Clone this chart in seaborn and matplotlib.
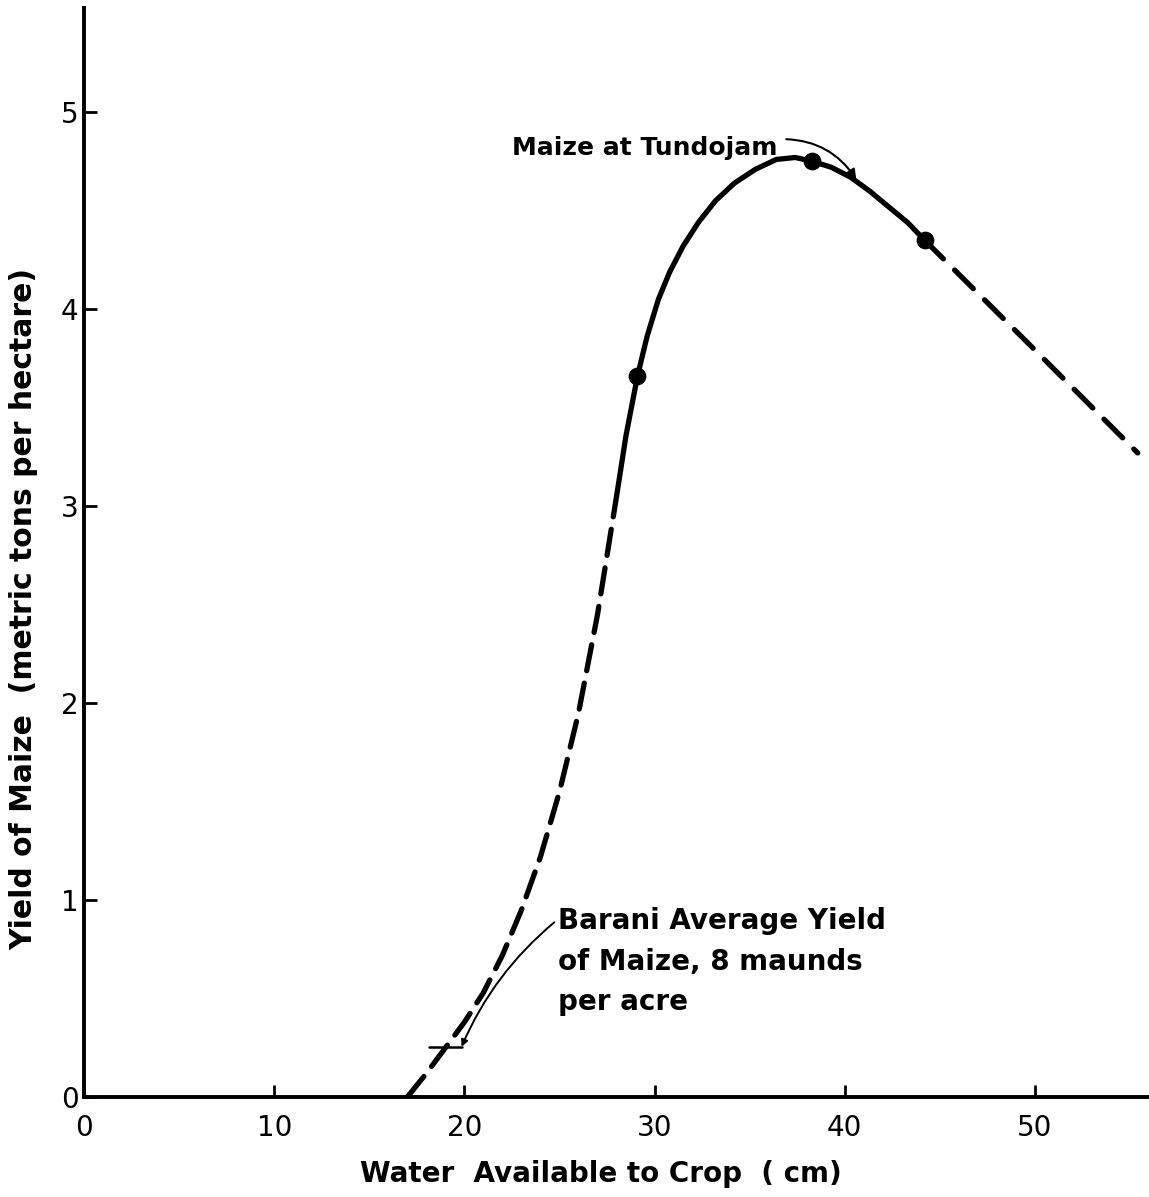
import matplotlib
matplotlib.use("Agg")
import matplotlib.pyplot as plt
import seaborn as sns

# ---- data ----
# lower dashed part of the curve (extrapolated)
low_x = [17.0, 18.0, 19.0, 20.0, 21.0, 22.0, 23.0, 24.0, 25.0, 26.0, 27.0, 27.5, 28.0]
low_y = [0.00, 0.12, 0.25, 0.38, 0.53, 0.72, 0.95, 1.22, 1.55, 1.95, 2.45, 2.75, 3.05]
# solid part (observed range)
mid_x = [28.0, 28.5, 29.1, 29.6, 30.2, 30.8, 31.5, 32.3, 33.2, 34.2, 35.3, 36.4, 37.4,
         38.3, 39.3, 40.3, 41.3, 42.3, 43.3, 44.2]
mid_y = [3.05, 3.36, 3.66, 3.86, 4.05, 4.19, 4.32, 4.44, 4.55, 4.64, 4.71, 4.76, 4.77,
         4.75, 4.72, 4.67, 4.60, 4.52, 4.44, 4.35]
# upper dashed part (extrapolated)
high_x = [44.2, 49.4, 55.4]
high_y = [4.35, 3.85, 3.27]
# observed points
obs_x = [29.1, 38.3, 44.2]
obs_y = [3.66, 4.75, 4.35]
# barani average yield marker
barani_x = [18.15, 19.85]
barani_y = [0.255, 0.255]

xticks = [0, 10, 20, 30, 40, 50]
yticks = [0, 1, 2, 3, 4, 5]

sns.set_style("ticks")
plt.rcParams["font.family"] = ["DejaVu Sans"]
for k in ["text.color", "axes.labelcolor", "xtick.color", "ytick.color", "axes.edgecolor"]:
    plt.rcParams[k] = "black"

fig = plt.figure(figsize=(11.49, 11.97), dpi=100)
ax = fig.add_axes([0.0731, 0.0835, 0.927, 0.910])

lw = 3.8
sns.lineplot(x=low_x, y=low_y, ax=ax, color="black", lw=lw, sort=False,
             linestyle=(0, (5.0, 2.4)), dash_capstyle="round")
sns.lineplot(x=mid_x, y=mid_y, ax=ax, color="black", lw=lw, sort=False)
sns.lineplot(x=high_x, y=high_y, ax=ax, color="black", lw=lw, sort=False,
             linestyle=(0, (5.0, 3.0)), dash_capstyle="round")
sns.scatterplot(x=obs_x, y=obs_y, ax=ax, color="black", s=140, edgecolor="black", zorder=5)
sns.lineplot(x=barani_x, y=barani_y, ax=ax, color="black", lw=1.8, sort=False)

ax.set_xlim(0, 56)
ax.set_ylim(0, 5.53)
ax.set_xticks(xticks)
ax.set_yticks(yticks)
ax.set_xticklabels([str(t) for t in xticks])
ax.set_yticklabels([str(t) for t in yticks])
for s in ["top", "right"]:
    ax.spines[s].set_visible(False)
for s in ["left", "bottom"]:
    ax.spines[s].set_linewidth(2.8)
ax.tick_params(axis="both", direction="in", length=9, width=2, labelsize=20)
ax.tick_params(axis="x", pad=12)
ax.tick_params(axis="y", pad=4)

ax.set_xlabel("Water  Available to Crop  ( cm)", fontsize=20, fontweight="bold")
ax.xaxis.set_label_coords(0.485, -0.058)
ax.set_ylabel("Yield of Maize  (metric tons per hectare)", fontsize=21.5, fontweight="bold")
ax.yaxis.set_label_coords(-0.043, 0.448)

ax.annotate("Maize at Tundojam", xy=(40.6, 4.66), xytext=(22.5, 4.82),
            fontsize=18, fontweight="bold", ha="left", va="center",
            arrowprops=dict(arrowstyle="-|>", color="black", lw=1.5,
                            connectionstyle="arc3,rad=-0.28",
                            shrinkA=4, shrinkB=0, mutation_scale=14,
                            relpos=(1.0, 0.85)))
ax.annotate("Barani Average Yield\nof Maize, 8 maunds\nper acre", xy=(19.85, 0.255), xytext=(24.9, 0.965),
            fontsize=20, fontweight="bold", ha="left", va="top", linespacing=1.58,
            arrowprops=dict(arrowstyle="-|>", color="black", lw=1.4,
                            connectionstyle="arc3,rad=0.12",
                            shrinkA=0, shrinkB=0, mutation_scale=10,
                            relpos=(-0.01, 0.86)))

fig.savefig("out.png", dpi=100, facecolor="white")
